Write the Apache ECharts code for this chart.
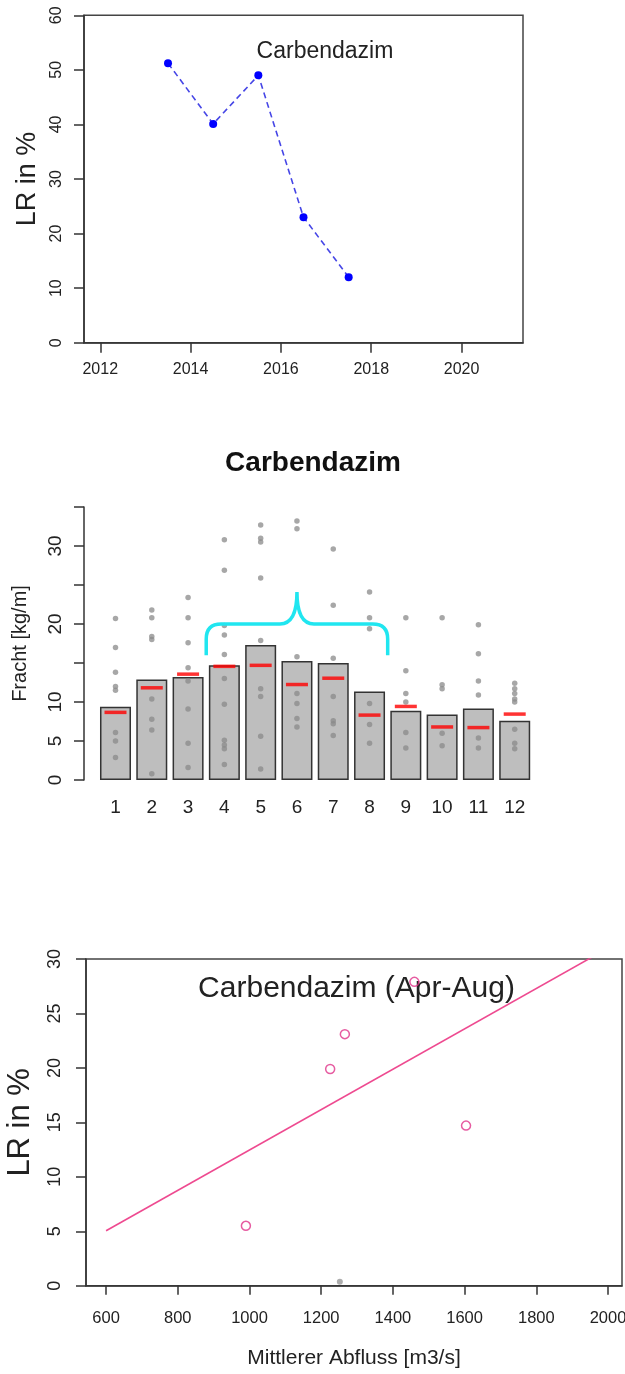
<!DOCTYPE html>
<html><head><meta charset="utf-8">
<script src="https://cdn.jsdelivr.net/npm/echarts@6/dist/echarts.min.js"></script>
<style>html,body{margin:0;padding:0;background:#fff}#c{width:625px;height:1374px}</style>
</head><body><div id="c"></div><script>
// ---------- Chart 1: LR per year ----------
const years = [2013.5, 2014.5, 2015.5, 2016.5, 2017.5];
const lrYear = [51.2, 40.1, 49.0, 23.0, 12.0];
const yearTicks = [2012, 2014, 2016, 2018, 2020];

// ---------- Chart 2: monthly loads ----------
const months = ['1','2','3','4','5','6','7','8','9','10','11','12'];
const monthMean = [9.4, 12.9, 13.2, 14.7, 17.3, 15.25, 15.0, 11.35, 8.88, 8.4, 9.18, 7.6];
const monthMedian = [8.67, 11.82, 13.57, 14.57, 14.7, 12.24, 13.05, 8.32, 9.43, 6.8, 6.72, 8.45];
const monthLoads = [
  [20.7, 17.0, 13.8, 12.0, 11.5, 6.1, 5.0, 2.9],
  [21.8, 20.8, 18.4, 18.0, 10.4, 7.8, 6.4, 0.8],
  [23.4, 20.8, 17.6, 14.4, 12.7, 9.1, 4.7, 1.6],
  [30.8, 26.9, 19.8, 18.6, 16.1, 13.0, 9.7, 5.1, 4.5, 4.0, 2.0],
  [32.7, 31.0, 30.5, 25.9, 17.9, 11.7, 10.7, 5.6, 1.4],
  [33.2, 32.2, 15.8, 11.1, 9.8, 7.9, 6.8],
  [35.2, 29.6, 22.4, 15.6, 10.7, 7.6, 7.2, 5.7],
  [24.1, 20.8, 19.4, 9.8, 7.1, 4.7],
  [20.8, 14.0, 11.1, 10.0, 6.1, 4.1],
  [20.8, 12.2, 11.7, 6.0, 4.4],
  [19.9, 16.2, 12.7, 10.9, 5.4, 4.1],
  [12.4, 11.7, 11.1, 10.4, 10.0, 6.5, 4.7, 4.0]
];
const loadTickLabels = [0, 5, 10, 20, 30];
const braceMonths = [3, 5, 7];        // first, middle, last category index (months 4, 6, 8)
const braceLevels = [16, 20, 24.1];   // ends, arm, tip

// ---------- Chart 3: LR vs discharge ----------
const flowX = [990, 1225, 1266, 1460, 1604];
const lrFlow = [5.5, 19.9, 23.1, 27.9, 14.7];
const greyX = [1252];
const greyY = [0.37];
const fitX = [600, 2000];
const fitY = [5.05, 31.0];
const flowTicks = [600, 800, 1000, 1200, 1400, 1600, 1800, 2000];

const FONT = 'Liberation Sans, Arial, sans-serif';
const AX = {color: '#333', width: 1.5};
const plain = v => String(v);

const chart = echarts.init(document.getElementById('c'), null, {renderer: 'canvas'});

const loadPoints = [];
monthLoads.forEach((arr, i) => arr.forEach(v => loadPoints.push([i, v])));

const option = {
  animation: false,
  backgroundColor: '#fff',
  textStyle: {fontFamily: FONT},
  grid: [
    {left: 84, right: 102, top: 15.3, bottom: 1031.3, outerBoundsMode: 'none', containLabel: false, show: true, borderColor: '#444', borderWidth: 1.5, backgroundColor: 'transparent'},
    {left: 97.35, right: 92.15, top: 507, bottom: 594, outerBoundsMode: 'none', containLabel: false},
    {left: 86, right: 3, top: 959, bottom: 88.3, outerBoundsMode: 'none', containLabel: false, show: true, borderColor: '#444', borderWidth: 1.5, backgroundColor: 'transparent'}
  ],
  xAxis: [
    {type: 'value', gridIndex: 0, min: 2011.64, max: 2021.36,
      splitLine: {show: false}, axisLine: {show: true, lineStyle: AX},
      axisTick: {show: true, length: 10, customValues: yearTicks, lineStyle: AX},
      axisLabel: {customValues: yearTicks, formatter: plain, fontSize: 16, margin: 19, color: '#222', fontFamily: FONT}},
    {type: 'category', gridIndex: 1, data: months,
      axisLine: {show: false}, axisTick: {show: false},
      axisLabel: {fontSize: 19, margin: 18, color: '#222', fontFamily: FONT}},
    {type: 'value', gridIndex: 2, min: 544, max: 2039,
      splitLine: {show: false}, axisLine: {show: true, lineStyle: AX},
      axisTick: {show: true, length: 9, customValues: flowTicks, lineStyle: AX},
      axisLabel: {customValues: flowTicks, formatter: plain, fontSize: 16.5, margin: 24, color: '#222', fontFamily: FONT},
      name: 'Mittlerer Abfluss [m3/s]', nameLocation: 'middle', nameGap: 62,
      nameTextStyle: {fontSize: 21, color: '#222', fontFamily: FONT}}
  ],
  yAxis: [
    {type: 'value', gridIndex: 0, min: 0, max: 60, interval: 10,
      splitLine: {show: false}, axisLine: {show: true, lineStyle: AX},
      axisTick: {show: true, length: 10, lineStyle: AX},
      axisLabel: {rotate: 90, fontSize: 16, margin: 19, color: '#222', fontFamily: FONT},
      name: 'LR in %', nameLocation: 'middle', nameRotate: 90, nameGap: 42,
      nameTextStyle: {fontSize: 27, color: '#222', fontFamily: FONT}},
    {type: 'value', gridIndex: 1, min: 0, max: 35, interval: 5, offset: 13.35,
      splitLine: {show: false}, axisLine: {show: true, lineStyle: AX},
      axisTick: {show: true, length: 10, lineStyle: AX},
      axisLabel: {rotate: 90, fontSize: 19, margin: 19, color: '#222', fontFamily: FONT,
        formatter: v => loadTickLabels.indexOf(v) >= 0 ? String(v) : ''},
      name: 'Fracht [kg/m]', nameLocation: 'middle', nameRotate: 90, nameGap: 54,
      nameTextStyle: {fontSize: 20, color: '#222', fontFamily: FONT}},
    {type: 'value', gridIndex: 2, min: 0, max: 30, interval: 5,
      splitLine: {show: false}, axisLine: {show: true, lineStyle: AX},
      axisTick: {show: true, length: 10, lineStyle: AX},
      axisLabel: {rotate: 90, fontSize: 18, margin: 22, color: '#222', fontFamily: FONT},
      name: 'LR in %', nameLocation: 'middle', nameRotate: 90, nameGap: 50,
      nameTextStyle: {fontSize: 31, color: '#222', fontFamily: FONT}}
  ],
  graphic: [
    {type: 'text', x: 325, y: 52, style: {text: 'Carbendazim', fontSize: 23, fill: '#222', textAlign: 'center', textVerticalAlign: 'middle', fontFamily: FONT}},
    {type: 'text', x: 313, y: 463, style: {text: 'Carbendazim', fontSize: 28, fontWeight: 'bold', fill: '#111', textAlign: 'center', textVerticalAlign: 'middle', fontFamily: FONT}},
    {type: 'text', x: 356.5, y: 989, style: {text: 'Carbendazim (Apr-Aug)', fontSize: 30, fill: '#222', textAlign: 'center', textVerticalAlign: 'middle', fontFamily: FONT}}
  ],
  series: [
    {type: 'line', xAxisIndex: 0, yAxisIndex: 0,
      data: years.map((y, i) => [y, lrYear[i]]),
      lineStyle: {color: '#4646e6', width: 1.6, type: [6, 4]},
      symbol: 'circle', symbolSize: 8, itemStyle: {color: '#0000ff'}},
    {type: 'bar', xAxisIndex: 1, yAxisIndex: 1, data: monthMean, barWidth: 31,
      itemStyle: {color: '#bebebe', borderColor: '#333', borderWidth: 1.5}, z: 2},
    {type: 'scatter', xAxisIndex: 1, yAxisIndex: 1, data: loadPoints,
      symbol: 'circle', symbolSize: 5.5, itemStyle: {color: '#8a8a8a', opacity: 0.75}, z: 3},
    {type: 'scatter', xAxisIndex: 1, yAxisIndex: 1,
      data: monthMedian.map((v, i) => [i, v]),
      symbol: 'rect', symbolSize: [22, 3.5], itemStyle: {color: '#ff0000'}, z: 4},
    {type: 'custom', xAxisIndex: 1, yAxisIndex: 1, z: 5,
      data: [[braceMonths[1], braceLevels[2]]],
      renderItem: function (params, api) {
        const band = api.size([1, 0])[0];
        const xl = api.coord([braceMonths[0], braceLevels[0]])[0] - band / 2;
        const xr = api.coord([braceMonths[2], braceLevels[0]])[0] + band / 2;
        const xc = api.coord([braceMonths[1], braceLevels[0]])[0];
        const yb = api.coord([braceMonths[0], braceLevels[0]])[1];
        const ya = api.coord([braceMonths[0], braceLevels[1]])[1];
        const yt = api.coord([braceMonths[1], braceLevels[2]])[1];
        const r = 15, t = 17;
        const d = 'M' + xl + ',' + yb + ' L' + xl + ',' + (ya + r) +
          ' Q' + xl + ',' + ya + ' ' + (xl + r) + ',' + ya +
          ' L' + (xc - t) + ',' + ya + ' Q' + xc + ',' + ya + ' ' + xc + ',' + yt +
          ' Q' + xc + ',' + ya + ' ' + (xc + t) + ',' + ya +
          ' L' + (xr - r) + ',' + ya + ' Q' + xr + ',' + ya + ' ' + xr + ',' + (ya + r) +
          ' L' + xr + ',' + yb;
        return {type: 'path', shape: {pathData: d},
          style: {stroke: '#20e6f0', lineWidth: 3.5, fill: 'none'}};
      }},
    {type: 'line', xAxisIndex: 2, yAxisIndex: 2, data: fitX.map((x, i) => [x, fitY[i]]),
      symbol: 'none', clip: true, lineStyle: {color: '#ee4a90', width: 1.6}, z: 2},
    {type: 'scatter', xAxisIndex: 2, yAxisIndex: 2, data: greyX.map((x, i) => [x, greyY[i]]),
      symbol: 'circle', symbolSize: 6, itemStyle: {color: '#999'}, z: 3},
    {type: 'scatter', xAxisIndex: 2, yAxisIndex: 2, data: flowX.map((x, i) => [x, lrFlow[i]]),
      symbol: 'circle', symbolSize: 9,
      itemStyle: {color: 'rgba(0,0,0,0)', borderColor: '#e0338a', borderWidth: 1.5}, z: 4}
  ]
};
chart.setOption(option);
</script></body></html>
